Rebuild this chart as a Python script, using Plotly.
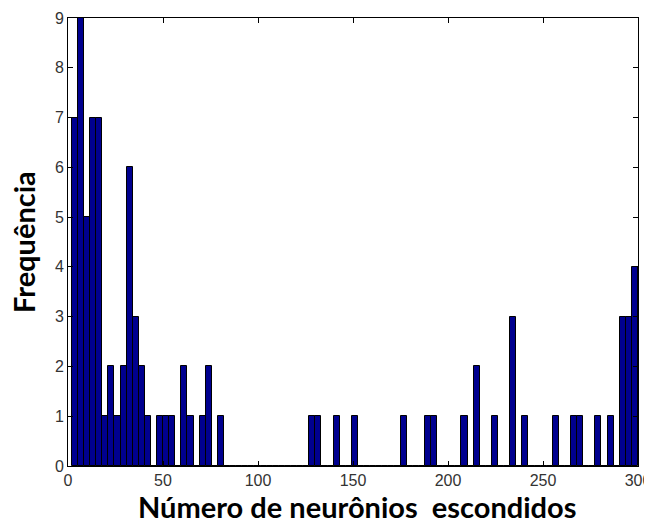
import plotly.graph_objects as go

# Histogram of hidden neuron counts (93 bins from 2 to 300)
bin_min = 2.0
bin_max = 300.0
n_bins = 93
counts = [7, 9, 5, 7, 7, 1, 2, 1, 2, 6, 3, 2, 1, 0, 1, 1, 1, 0, 2, 1,
          0, 1, 2, 0, 1, 0, 0, 0, 0, 0, 0, 0, 0, 0, 0, 0, 0, 0, 0, 1,
          1, 0, 0, 1, 0, 0, 1, 0, 0, 0, 0, 0, 0, 0, 1, 0, 0, 0, 1, 1,
          0, 0, 0, 0, 1, 0, 2, 0, 0, 1, 0, 0, 3, 0, 1, 0, 0, 0, 0, 1,
          0, 0, 1, 1, 0, 0, 1, 0, 1, 0, 3, 3, 4]
x_ticks = [0, 50, 100, 150, 200, 250, 300]
y_ticks = [0, 1, 2, 3, 4, 5, 6, 7, 8, 9]
x_title = "Número de neurônios  escondidos"
y_title = "Frequência"

w = (bin_max - bin_min) / n_bins
centers = [bin_min + (i + 0.5) * w for i in range(n_bins)]

fig = go.Figure(go.Bar(
    x=centers, y=counts, width=w,
    marker=dict(color="#00008F", line=dict(color="black", width=1)),
))

title_font = dict(family="Lato", size=29, color="black", weight="bold")
tick_font = dict(family="Liberation Sans Narrow, Liberation Sans, Arial", size=16, color="#333")
# The page body adds an 8px offset, so the figure is 8px smaller and margins shifted.
fig.update_layout(
    width=644, height=514,
    margin=dict(l=60, r=14, t=10, b=56),
    paper_bgcolor="white", plot_bgcolor="white",
    showlegend=False, bargap=0,
    font=tick_font,
    annotations=[
        dict(text=x_title, xref="paper", yref="paper", x=0.5, y=0,
             xanchor="center", yanchor="middle", yshift=-40, xshift=4,
             showarrow=False, font=title_font),
        dict(text=y_title, xref="paper", yref="paper", x=0, y=0.5,
             xanchor="center", yanchor="middle", xshift=-45, textangle=-90,
             showarrow=False, font=title_font),
    ],
)
axis_common = dict(
    showline=True, linecolor="black", linewidth=1, mirror="ticks",
    ticks="inside", ticklen=5, tickcolor="black", showgrid=False,
    zeroline=False, automargin=False, tickfont=tick_font,
)
fig.update_xaxes(range=[0, 300], tickvals=x_ticks, **axis_common)
fig.update_yaxes(range=[0, 9], tickvals=y_ticks, **axis_common)

fig.write_html("out.html")
